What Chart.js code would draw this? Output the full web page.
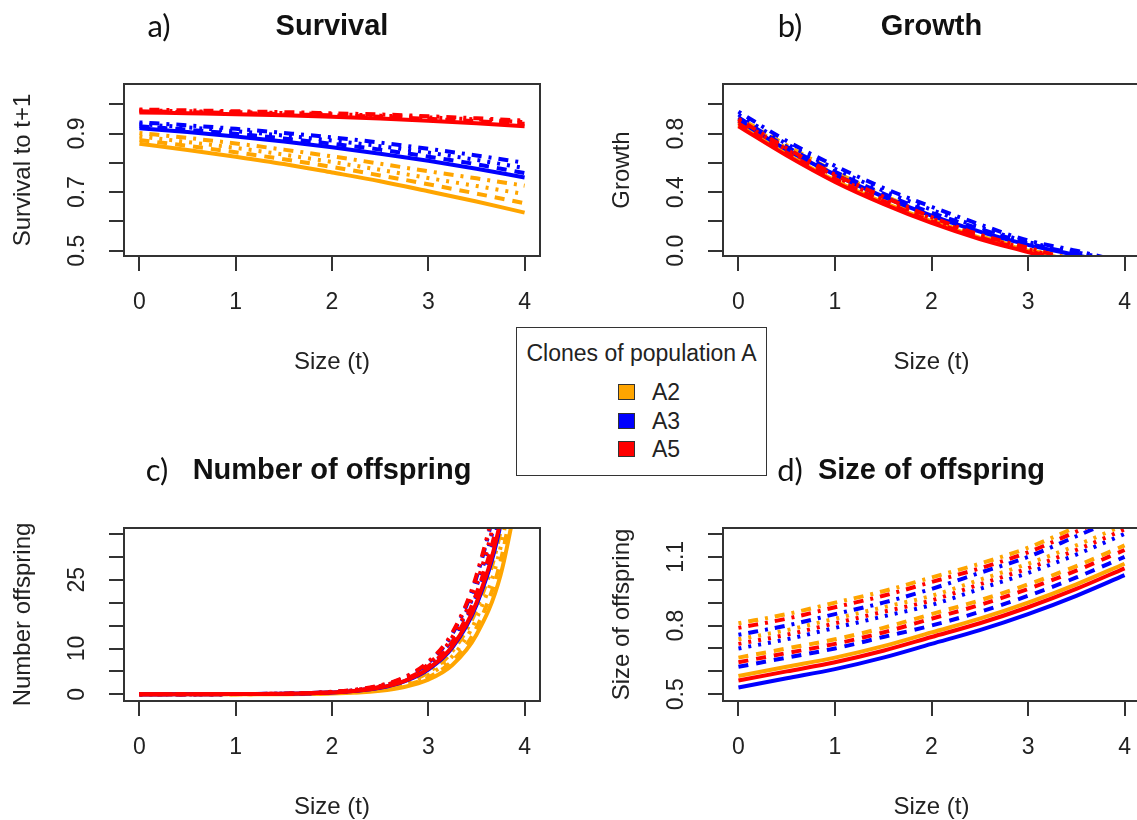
<!DOCTYPE html>
<html>
<head>
<meta charset="utf-8">
<title>Clones of population A</title>
<script src="https://cdn.jsdelivr.net/npm/chart.js@4.4.0/dist/chart.umd.min.js"></script>
<style>
  html, body { margin: 0; padding: 0; background: #fff; overflow: hidden; }
  #page { position: relative; width: 1137px; height: 820px; overflow: hidden; font-family: "Liberation Sans", Arial, sans-serif; color: #222; }
  canvas.panel { position: absolute; left: 0; top: 0; }
  #legend { position: absolute; left: 516px; top: 327px; width: 249px; height: 147px; border: 1.5px solid #333; background: #fff; }
  #legend .lg-title { position: absolute; left: 0; right: 0; top: 12px; text-align: center; font-size: 23px; }
  #legend .lg-item { position: absolute; left: 135px; font-size: 23px; line-height: 24px; }
  #legend .lg-swatch { position: absolute; left: -34px; top: 4px; width: 15px; height: 14px; border: 1.5px solid #333; }
</style>
</head>
<body>
<div id="page">
  <canvas class="panel" id="survival" width="1160" height="820"></canvas>
  <canvas class="panel" id="growth" width="1160" height="820"></canvas>
  <canvas class="panel" id="offspringNumber" width="1160" height="820"></canvas>
  <canvas class="panel" id="offspringSize" width="1160" height="820"></canvas>
  <div id="legend"><div class="lg-title">Clones of population A</div></div>
</div>
<script>
// size classes on the x axis
const sizes = [0, 0.5, 1, 1.5, 2, 2.5, 3, 3.5, 4];
const sizesFine = [0, 1, 2, 2.5, 2.75, 3, 3.25, 3.5, 3.75, 4];
const sizeTicks = [0, 1, 2, 3, 4];

const clones = ["A2", "A3", "A5"];
const cloneColors = ["#FFA500", "#0000FF", "#FF0000"];
// solid, dashed, dotted, dot-dash (one line per treatment)
const lineDashes = [[], [10, 8], [3, 7], [3, 7, 10, 7]];

// a) survival to t+1
const survivalTicks = [0.5, 0.6, 0.7, 0.8, 0.9, 1.0];
const survivalTickLabels = ["0.5", "", "0.7", "", "0.9", ""];
const survivalA2 = [
  [0.865, 0.844, 0.821, 0.796, 0.767, 0.737, 0.703, 0.668, 0.630],
  [0.878, 0.858, 0.836, 0.812, 0.786, 0.757, 0.727, 0.695, 0.662],
  [0.890, 0.871, 0.851, 0.828, 0.803, 0.776, 0.748, 0.721, 0.693],
  [0.902, 0.885, 0.866, 0.845, 0.822, 0.797, 0.771, 0.747, 0.722]
];
const survivalA3 = [
  [0.918, 0.905, 0.890, 0.873, 0.853, 0.831, 0.807, 0.780, 0.750],
  [0.925, 0.913, 0.899, 0.883, 0.865, 0.845, 0.821, 0.795, 0.765],
  [0.932, 0.921, 0.908, 0.893, 0.876, 0.857, 0.835, 0.810, 0.782],
  [0.938, 0.928, 0.916, 0.902, 0.887, 0.869, 0.848, 0.825, 0.800]
];
const survivalA5 = [
  [0.972, 0.969, 0.966, 0.962, 0.957, 0.951, 0.944, 0.935, 0.925],
  [0.976, 0.973, 0.970, 0.966, 0.962, 0.957, 0.950, 0.942, 0.933],
  [0.979, 0.976, 0.973, 0.970, 0.966, 0.961, 0.955, 0.948, 0.939],
  [0.982, 0.979, 0.976, 0.973, 0.969, 0.965, 0.959, 0.952, 0.944]
];

// b) growth
const growthTicks = [0, 0.2, 0.4, 0.6, 0.8, 1.0];
const growthTickLabels = ["0.0", "", "0.4", "", "0.8", ""];
const growthA2 = [
  [0.86, 0.66, 0.48, 0.33, 0.20, 0.09, 0.00, -0.09, -0.18],
  [0.88, 0.68, 0.50, 0.35, 0.21, 0.10, 0.01, -0.08, -0.17],
  [0.90, 0.70, 0.52, 0.36, 0.23, 0.11, 0.01, -0.07, -0.16],
  [0.91, 0.72, 0.54, 0.38, 0.24, 0.12, 0.02, -0.06, -0.15]
];
const growthA3 = [
  [0.89, 0.69, 0.52, 0.37, 0.24, 0.13, 0.04, -0.03, -0.10],
  [0.91, 0.71, 0.54, 0.39, 0.26, 0.15, 0.05, -0.02, -0.09],
  [0.93, 0.73, 0.56, 0.41, 0.28, 0.16, 0.06, -0.01, -0.08],
  [0.95, 0.75, 0.58, 0.43, 0.30, 0.18, 0.07, 0.00, -0.08]
];
const growthA5 = [
  [0.85, 0.65, 0.47, 0.32, 0.19, 0.08, -0.01, -0.10, -0.19],
  [0.87, 0.67, 0.49, 0.34, 0.20, 0.09, 0.00, -0.09, -0.18],
  [0.89, 0.69, 0.51, 0.35, 0.22, 0.10, 0.01, -0.08, -0.17],
  [0.90, 0.70, 0.52, 0.37, 0.23, 0.11, 0.02, -0.07, -0.16]
];

// c) number of offspring (on sizesFine)
const numberTicks = [0, 5, 10, 15, 20, 25, 30, 35];
const numberTickLabels = ["0", "", "10", "", "", "25", "", ""];
const numberA2 = [
  [0, 0.02, 0.20, 0.80, 1.6, 3.2, 6.4, 13.0, 26.0, 52],
  [0, 0.03, 0.24, 0.95, 1.9, 3.7, 7.3, 14.5, 29.0, 57],
  [0, 0.03, 0.28, 1.10, 2.2, 4.2, 8.3, 16.5, 32.0, 62],
  [0, 0.04, 0.33, 1.25, 2.5, 4.8, 9.4, 18.5, 35.5, 68]
];
const numberA3 = [
  [0, 0.05, 0.38, 1.40, 2.8, 5.4, 10.2, 19.5, 37.0, 70],
  [0, 0.05, 0.42, 1.55, 3.0, 5.9, 11.2, 21.5, 40.0, 76],
  [0, 0.05, 0.48, 1.70, 3.3, 6.4, 12.2, 23.5, 44.0, 83],
  [0, 0.06, 0.52, 1.85, 3.6, 6.9, 13.2, 25.5, 48.0, 90]
];
const numberA5 = [
  [0, 0.05, 0.40, 1.50, 2.9, 5.6, 10.5, 20.0, 38.0, 72],
  [0, 0.05, 0.45, 1.65, 3.2, 6.1, 11.5, 22.0, 41.0, 78],
  [0, 0.06, 0.50, 1.80, 3.4, 6.6, 12.5, 24.0, 45.0, 85],
  [0, 0.06, 0.55, 1.95, 3.7, 7.1, 13.5, 26.0, 49.0, 92]
];

// d) size of offspring
const offSizeTicks = [0.5, 0.6, 0.7, 0.8, 0.9, 1.0, 1.1, 1.2];
const offSizeTickLabels = ["0.5", "", "", "0.8", "", "", "1.1", ""];
const offSizeA2 = [
  [0.58, 0.62, 0.66, 0.71, 0.77, 0.83, 0.90, 0.98, 1.07],
  [0.66, 0.70, 0.74, 0.79, 0.85, 0.91, 0.98, 1.06, 1.15],
  [0.74, 0.78, 0.83, 0.88, 0.93, 1.00, 1.07, 1.15, 1.24],
  [0.81, 0.85, 0.90, 0.95, 1.01, 1.07, 1.14, 1.23, 1.32]
];
const offSizeA3 = [
  [0.53, 0.57, 0.61, 0.66, 0.72, 0.78, 0.85, 0.93, 1.02],
  [0.62, 0.66, 0.70, 0.75, 0.80, 0.86, 0.93, 1.01, 1.10],
  [0.70, 0.74, 0.79, 0.84, 0.89, 0.96, 1.03, 1.11, 1.20],
  [0.76, 0.80, 0.85, 0.90, 0.96, 1.03, 1.10, 1.19, 1.28]
];
const offSizeA5 = [
  [0.56, 0.60, 0.64, 0.69, 0.75, 0.81, 0.88, 0.96, 1.05],
  [0.64, 0.68, 0.72, 0.77, 0.83, 0.89, 0.96, 1.04, 1.13],
  [0.72, 0.76, 0.81, 0.86, 0.91, 0.98, 1.05, 1.13, 1.22],
  [0.79, 0.83, 0.88, 0.93, 0.99, 1.05, 1.12, 1.21, 1.30]
];

const CANVAS_W = 1160, CANVAS_H = 820;
const Y_TICK_LEN = 14, X_TICK_LEN = 16;

function buildDatasets(xs, byClone) {
  const sets = [];
  byClone.forEach((lines, c) => {
    lines.forEach((ys, k) => {
      sets.push({
        label: clones[c],
        data: xs.map((x, i) => ({ x: x, y: ys[i] })),
        borderColor: cloneColors[c],
        borderWidth: 4,
        borderDash: lineDashes[k],
        cubicInterpolationMode: "monotone",
        pointRadius: 0,
        fill: false,
        order: byClone.length - 1 - c   // A5 drawn last
      });
    });
  });
  return sets;
}

// frame, tick labels, axis titles and panel heading (R base-graphics look)
const panelFrame = {
  id: "panelFrame",
  afterDatasetsDraw(chart, args, opts) {
    const { ctx, chartArea: a } = chart;
    const x = chart.scales.x, y = chart.scales.y;
    ctx.save();
    ctx.strokeStyle = "#333";
    ctx.lineWidth = 2;
    ctx.strokeRect(a.left, a.top, a.right - a.left, a.bottom - a.top);

    ctx.fillStyle = "#222";
    ctx.textAlign = "center";
    ctx.textBaseline = "middle";
    ctx.font = '23px "Liberation Sans"';
    sizeTicks.forEach(v => ctx.fillText(String(v), x.getPixelForValue(v), a.bottom + 47));
    opts.yTicks.forEach((v, i) => {
      if (!opts.yLabels[i]) return;
      ctx.save();
      ctx.translate(a.left - 46, y.getPixelForValue(v));
      ctx.rotate(-Math.PI / 2);
      ctx.fillText(opts.yLabels[i], 0, 0);
      ctx.restore();
    });

    ctx.font = '24px "Liberation Sans"';
    ctx.fillText("Size (t)", (a.left + a.right) / 2, a.bottom + 106);
    ctx.save();
    ctx.translate(a.left - 101, (a.top + a.bottom) / 2);
    ctx.rotate(-Math.PI / 2);
    ctx.fillText(opts.yTitle, 0, 0);
    ctx.restore();

    ctx.fillStyle = "#111";
    ctx.font = "31px Lato";
    ctx.fillText(opts.tag, a.left + opts.tagOffset, a.top - 57);
    ctx.font = 'bold 29px "Liberation Sans"';
    ctx.fillText(opts.title, (a.left + a.right) / 2, a.top - 57);
    ctx.restore();
  }
};

function makePanel(id, area, yMin, yMax, yTicks, yLabels, datasets, text) {
  new Chart(document.getElementById(id), {
    type: "line",
    data: { datasets: datasets },
    options: {
      responsive: false,
      animation: false,
      devicePixelRatio: 1,
      layout: {
        padding: {
          left: area.left - Y_TICK_LEN,
          top: area.top,
          right: CANVAS_W - area.right,
          bottom: CANVAS_H - area.bottom - X_TICK_LEN
        }
      },
      plugins: {
        legend: { display: false },
        tooltip: { enabled: false },
        panelFrame: Object.assign({ yTicks: yTicks, yLabels: yLabels }, text)
      },
      scales: {
        x: {
          type: "linear",
          min: -0.16,
          max: 4.16,
          afterBuildTicks: s => { s.ticks = sizeTicks.map(v => ({ value: v })); },
          afterFit: s => { s.height = X_TICK_LEN; },
          grid: { drawOnChartArea: false, drawTicks: true, tickLength: 15, color: "#333", lineWidth: 2 },
          border: { display: false },
          ticks: { display: false }
        },
        y: {
          type: "linear",
          min: yMin,
          max: yMax,
          afterBuildTicks: s => { s.ticks = yTicks.map(v => ({ value: v })); },
          afterFit: s => { s.width = Y_TICK_LEN; },
          grid: { drawOnChartArea: false, drawTicks: true, tickLength: 15, color: "#333", lineWidth: 2 },
          border: { display: false },
          ticks: { display: false }
        }
      }
    },
    plugins: [panelFrame]
  });
}

const leftArea = { left: 124, right: 540 };
const rightArea = { left: 723, right: 1140 };

makePanel("survival", Object.assign({ top: 84, bottom: 256 }, leftArea), 0.482, 1.069,
  survivalTicks, survivalTickLabels,
  buildDatasets(sizes, [survivalA2, survivalA3, survivalA5]),
  { tag: "a)", tagOffset: 35, title: "Survival", yTitle: "Survival to t+1" });

makePanel("growth", Object.assign({ top: 84, bottom: 256 }, rightArea), -0.036, 1.139,
  growthTicks, growthTickLabels,
  buildDatasets(sizes, [growthA2, growthA3, growthA5]),
  { tag: "b)", tagOffset: 67, title: "Growth", yTitle: "Growth" });

makePanel("offspringNumber", Object.assign({ top: 528, bottom: 701 }, leftArea), -1.46, 36.31,
  numberTicks, numberTickLabels,
  buildDatasets(sizesFine, [numberA2, numberA3, numberA5]),
  { tag: "c)", tagOffset: 33, title: "Number of offspring", yTitle: "Number offspring" });

makePanel("offspringSize", Object.assign({ top: 528, bottom: 701 }, rightArea), 0.4707, 1.226,
  offSizeTicks, offSizeTickLabels,
  buildDatasets(sizes, [offSizeA2, offSizeA3, offSizeA5]),
  { tag: "d)", tagOffset: 67, title: "Size of offspring", yTitle: "Size of offspring" });

// shared legend between the panels
const legend = document.getElementById("legend");
clones.forEach((name, i) => {
  const item = document.createElement("div");
  item.className = "lg-item";
  item.style.top = (52 + i * 28.5) + "px";
  const sw = document.createElement("span");
  sw.className = "lg-swatch";
  sw.style.background = cloneColors[i];
  item.appendChild(sw);
  item.appendChild(document.createTextNode(name));
  legend.appendChild(item);
});
</script>
</body>
</html>
